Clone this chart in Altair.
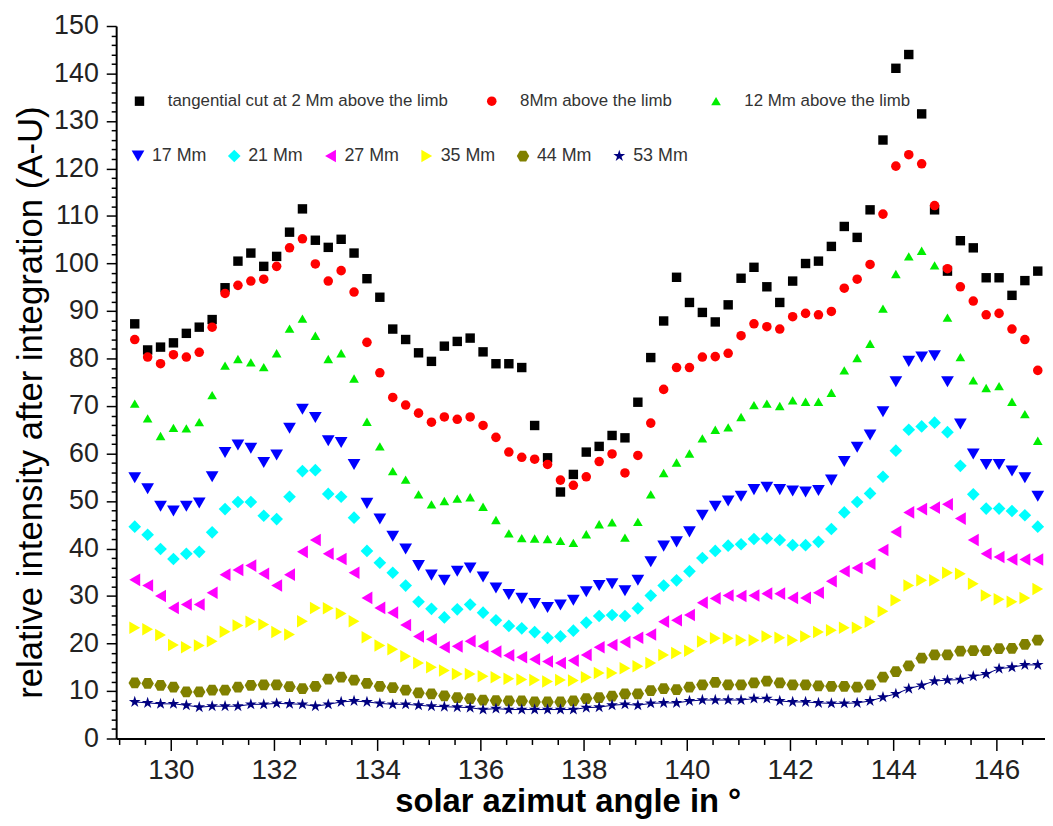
import altair as alt
import pandas as pd

# azimuth sampling positions (degrees)
X = [129.30, 129.55, 129.80, 130.05, 130.30, 130.55, 130.80, 131.05, 131.30, 131.55,
     131.80, 132.05, 132.30, 132.55, 132.80, 133.05, 133.30, 133.55, 133.80, 134.05,
     134.30, 134.55, 134.80, 135.05, 135.30, 135.55, 135.80, 136.05, 136.30, 136.55,
     136.80, 137.05, 137.30, 137.55, 137.80, 138.05, 138.30, 138.55, 138.80, 139.05,
     139.30, 139.55, 139.80, 140.05, 140.30, 140.55, 140.80, 141.05, 141.30, 141.55,
     141.80, 142.05, 142.30, 142.55, 142.80, 143.05, 143.30, 143.55, 143.80, 144.05,
     144.30, 144.55, 144.80, 145.05, 145.30, 145.55, 145.80, 146.05, 146.30, 146.55,
     146.80]

S2 = [87.3, 81.8, 82.4, 83.3, 85.3, 86.6, 88.2, 94.9, 100.5, 102.2,
      99.4, 101.5, 106.6, 111.5, 104.9, 103.4, 105.1, 102.2, 96.8, 92.9,
      86.2, 84.0, 81.2, 79.4, 82.6, 83.6, 84.3, 81.4, 78.9, 78.9,
      78.1, 65.9, 59.1, 51.9, 55.6, 60.3, 61.5, 63.8, 63.3, 70.8,
      80.2, 87.9, 97.1, 91.8, 89.7, 87.7, 91.3, 96.9, 99.2, 95.1,
      91.8, 96.3, 100.0, 100.5, 103.6, 107.8, 105.5, 111.3, 126.0, 141.1,
      144.0, 131.5, 111.3, 98.4, 104.8, 103.3, 97.0, 97.0, 93.3, 96.4,
      98.4]
S8 = [84.0, 80.3, 78.9, 80.8, 80.3, 81.3, 86.6, 93.7, 95.4, 96.3,
      96.7, 99.4, 103.3, 105.2, 99.9, 96.3, 98.5, 94.0, 83.4, 77.0,
      71.8, 70.2, 68.5, 66.6, 67.7, 67.2, 67.7, 65.9, 63.4, 60.3,
      59.2, 58.8, 57.7, 54.4, 53.3, 55.1, 58.3, 59.9, 55.9, 59.6,
      66.4, 73.5, 78.1, 78.1, 80.3, 80.4, 81.1, 84.8, 87.3, 86.7,
      86.2, 88.8, 89.5, 89.2, 89.9, 94.8, 96.7, 99.8, 110.4, 120.5,
      122.9, 121.0, 112.2, 98.9, 95.1, 92.1, 89.2, 89.5, 86.2, 84.0,
      77.5]
S12 = [70.5, 67.4, 63.7, 65.4, 65.3, 66.6, 72.3, 78.5, 79.9, 79.2,
       78.2, 81.1, 86.3, 88.4, 84.8, 79.9, 81.1, 75.8, 66.7, 61.5,
       56.3, 54.5, 51.4, 49.3, 50.0, 50.5, 50.8, 48.8, 46.0, 43.2,
       42.2, 42.1, 42.0, 41.6, 41.2, 43.0, 45.1, 45.5, 42.3, 45.6,
       51.4, 55.9, 58.1, 60.0, 63.2, 65.0, 65.5, 67.7, 70.2, 70.5,
       70.0, 71.2, 70.9, 70.9, 72.8, 77.5, 80.1, 83.1, 90.5, 97.8,
       101.5, 102.7, 99.6, 88.6, 80.3, 75.4, 73.8, 74.2, 70.9, 68.3,
       62.7]
S17 = [54.9, 52.6, 48.9, 47.9, 48.9, 49.6, 55.1, 60.2, 61.8, 61.1,
       58.1, 59.7, 65.3, 69.3, 67.6, 62.7, 62.3, 57.7, 49.5, 46.2,
       42.6, 39.9, 36.4, 34.4, 33.3, 35.2, 35.9, 34.0, 31.7, 30.3,
       29.5, 28.4, 27.6, 28.1, 29.1, 30.9, 32.2, 32.6, 31.1, 33.3,
       37.2, 40.5, 41.4, 43.5, 47.0, 48.9, 50.0, 51.0, 52.4, 52.9,
       52.4, 52.1, 51.9, 52.2, 54.4, 58.3, 61.3, 63.9, 68.8, 75.1,
       79.4, 80.3, 80.6, 75.1, 66.2, 59.9, 57.7, 57.7, 56.3, 54.9,
       51.0]
S21 = [44.6, 42.9, 39.9, 37.8, 38.9, 39.3, 43.4, 48.3, 49.8, 49.8,
       46.9, 46.2, 50.9, 56.3, 56.5, 51.5, 50.9, 46.5, 39.5, 37.0,
       34.9, 32.2, 28.8, 27.3, 25.5, 27.2, 28.2, 26.5, 24.9, 23.7,
       23.2, 22.4, 21.2, 21.5, 22.7, 24.4, 25.8, 26.0, 25.8, 27.4,
       30.1, 32.2, 33.3, 35.2, 38.0, 39.5, 40.6, 40.9, 42.0, 42.1,
       41.8, 40.7, 40.7, 41.4, 44.1, 47.6, 49.8, 51.6, 55.1, 60.6,
       65.0, 65.7, 66.5, 64.5, 57.4, 51.4, 48.4, 48.4, 47.9, 47.0,
       44.6]
S27 = [33.4, 32.2, 30.0, 27.5, 28.2, 28.2, 30.7, 34.5, 35.5, 36.4,
       34.7, 32.2, 34.5, 39.3, 41.8, 38.9, 37.8, 34.9, 29.6, 27.5,
       26.5, 23.9, 21.5, 20.9, 19.2, 19.4, 20.5, 19.4, 18.3, 17.5,
       17.1, 16.7, 16.2, 15.9, 16.4, 17.6, 19.2, 19.7, 20.3, 21.2,
       21.9, 24.6, 24.9, 26.0, 28.6, 29.5, 30.1, 30.0, 30.1, 30.5,
       30.5, 29.6, 29.6, 30.7, 33.1, 35.2, 35.9, 36.8, 39.7, 43.5,
       47.6, 48.3, 48.6, 49.3, 46.3, 41.8, 38.9, 38.2, 37.7, 37.7,
       37.7]
S35 = [23.3, 23.0, 21.8, 19.7, 19.2, 19.6, 20.5, 22.5, 23.8, 24.6,
       24.0, 22.4, 21.9, 24.7, 27.5, 27.4, 26.3, 24.7, 21.3, 19.6,
       18.8, 17.3, 15.9, 15.0, 14.3, 13.6, 13.6, 13.1, 12.9, 12.6,
       12.4, 12.3, 12.0, 12.3, 12.2, 12.9, 13.8, 13.8, 14.8, 15.2,
       15.9, 17.6, 18.0, 18.5, 20.4, 21.1, 21.1, 20.7, 20.7, 21.5,
       21.2, 20.7, 21.5, 22.4, 22.8, 23.3, 23.3, 24.6, 26.8, 29.1,
       32.2, 33.3, 33.3, 34.9, 34.7, 32.6, 30.1, 29.3, 28.8, 29.6,
       31.5]
S44 = [11.7, 11.6, 11.2, 10.8, 9.8, 9.8, 10.2, 10.2, 10.8, 11.2,
       11.3, 11.3, 10.9, 10.5, 11.0, 12.5, 12.9, 12.3, 11.6, 11.0,
       10.7, 10.2, 9.6, 9.4, 9.0, 8.6, 8.4, 8.1, 8.0, 7.9,
       7.9, 7.7, 7.7, 7.7, 7.9, 8.4, 8.6, 8.9, 9.4, 9.4,
       10.1, 10.5, 10.3, 10.8, 11.3, 11.8, 11.3, 11.3, 11.7, 12.1,
       11.7, 11.3, 11.3, 11.1, 11.0, 11.0, 10.8, 11.3, 12.9, 14.1,
       15.3, 16.9, 17.6, 17.6, 18.4, 18.5, 18.5, 18.9, 19.0, 19.8,
       20.7]
S53 = [7.7, 7.5, 7.3, 7.3, 7.0, 6.6, 6.8, 6.8, 6.8, 7.2,
       7.2, 7.4, 7.3, 7.2, 6.8, 7.2, 7.7, 7.9, 7.7, 7.4,
       7.2, 7.2, 7.0, 6.8, 6.7, 6.6, 6.5, 6.1, 6.3, 6.1,
       6.1, 6.1, 6.1, 6.1, 6.1, 6.5, 6.6, 7.0, 7.2, 7.0,
       7.4, 7.5, 7.5, 7.9, 8.1, 8.1, 8.1, 8.1, 8.4, 8.4,
       7.9, 7.7, 7.7, 7.5, 7.4, 7.4, 7.5, 7.9, 8.7, 9.4,
       10.5, 11.2, 12.1, 12.3, 12.4, 13.1, 13.6, 14.7, 15.0, 15.5,
       15.5]

NAMES_A = ["tangential cut at 2 Mm above the limb", "8Mm above the limb", "12 Mm above the limb"]
NAMES_B = ["17 Mm", "21 Mm", "27 Mm", "35 Mm", "44 Mm", "53 Mm"]
VALUES_A = [S2, S8, S12]
VALUES_B = [S17, S21, S27, S35, S44, S53]

COLORS_A = ["#000000", "#ff0000", "#00ee00"]
COLORS_B = ["#0000ff", "#00ffff", "#ff00ff", "#ffff00", "#808000", "#000080"]
HEX = "M-0.5,-0.866L0.5,-0.866L1,0L0.5,0.866L-0.5,0.866L-1,0Z"
STAR = ("M0,-1L0.2245,-0.309L0.951,-0.309L0.363,0.118L0.588,0.809L0,0.382"
        "L-0.588,0.809L-0.363,0.118L-0.951,-0.309L-0.2245,-0.309Z")
SHAPES_A = ["square", "circle", "triangle-up"]
SHAPES_B = ["triangle-down", "diamond", "triangle-left", "triangle-right", HEX, STAR]
SIZES_A = [90, 95, 175]
SIZES_B = [165, 155, 140, 140, 130, 150]

for v in VALUES_A + VALUES_B:
    assert len(v) == len(X), len(v)


def frame(names, values):
    rows = []
    for n, vals in zip(names, values):
        for xv, yv in zip(X, vals):
            rows.append({"x": xv, "y": yv, "series": n})
    return pd.DataFrame(rows)


dfA = frame(NAMES_A, VALUES_A)
dfB = frame(NAMES_B, VALUES_B)
dfLine = frame(["53 Mm"], [S53])

FONT = "Liberation Sans"
X_TICKS = [129 + 0.5 * k for k in range(36)]
Y_TICKS = [2 * k for k in range(76)]

x_enc = alt.X(
    "x:Q",
    scale=alt.Scale(domain=[128.94, 146.94], nice=False, zero=False),
    axis=alt.Axis(
        values=X_TICKS,
        format=".0f",
        labelExpr="datum.value % 2 === 0 ? datum.label : ''",
        tickSize={"condition": {"test": "datum.value % 2 === 0", "value": 12}, "value": 6},
        labelOverlap=False,
        grid=False,
        domainColor="#000000",
        domainWidth=2,
        tickColor="#000000",
        tickWidth=1.5,
        labelFont=FONT,
        labelFontSize=28,
        labelColor="#222222",
        labelPadding=6,
        title="solar azimut angle in °",
        titleFont=FONT,
        titleFontSize=33,
        titleFontWeight="bold",
        titleColor="#000000",
        titleBaseline="alphabetic",
        titleX=455,
        titleY=74,
    ),
)
y_enc = alt.Y(
    "y:Q",
    scale=alt.Scale(domain=[0, 150], nice=False),
    axis=alt.Axis(
        values=Y_TICKS,
        format=".0f",
        labelExpr="datum.value % 10 === 0 ? datum.label : ''",
        tickSize={"condition": {"test": "datum.value % 10 === 0", "value": 10}, "value": 5},
        labelOverlap=False,
        grid=False,
        domainColor="#000000",
        domainWidth=2,
        tickColor="#000000",
        tickWidth=1.5,
        labelFont=FONT,
        labelFontSize=27,
        labelColor="#222222",
        labelPadding=8,
        title="relative intensity after integration (A-U)",
        titleFont=FONT,
        titleFontSize=35,
        titleFontWeight="normal",
        titleColor="#000000",
        titleBaseline="alphabetic",
        titleAlign="center",
        titleX=-75,
        titleY=379,
    ),
)

line53 = alt.Chart(dfLine).mark_line(color="#000080", strokeWidth=1).encode(x=x_enc, y=y_enc)

ptsA = alt.Chart(dfA).mark_point(filled=True, opacity=1).encode(
    x=x_enc,
    y=y_enc,
    color=alt.Color(
        "series:N",
        scale=alt.Scale(domain=NAMES_A, range=COLORS_A),
        title=None,
        legend=alt.Legend(
            orient="none", direction="horizontal", legendX=15, legendY=67,
            labelFont=FONT, labelFontSize=17, labelColor="#333333",
            labelOffset=20, columnPadding=35, symbolSize=95, padding=0,
            labelLimit=400,
        ),
    ),
    shape=alt.Shape("series:N", scale=alt.Scale(domain=NAMES_A, range=SHAPES_A), title=None),
    size=alt.Size("series:N", scale=alt.Scale(domain=NAMES_A, range=SIZES_A), legend=None),
)

ptsB = alt.Chart(dfB).mark_point(filled=True, opacity=1).encode(
    x=x_enc,
    y=y_enc,
    color=alt.Color(
        "series:N",
        scale=alt.Scale(domain=NAMES_B, range=COLORS_B),
        title=None,
        legend=alt.Legend(
            orient="none", direction="horizontal", legendX=13, legendY=122,
            labelFont=FONT, labelFontSize=18, labelColor="#333333",
            labelOffset=5, columnPadding=18, symbolSize=120, padding=0,
            labelLimit=400,
        ),
    ),
    shape=alt.Shape("series:N", scale=alt.Scale(domain=NAMES_B, range=SHAPES_B), title=None),
    size=alt.Size("series:N", scale=alt.Scale(domain=NAMES_B, range=SIZES_B), legend=None),
)

chart = (
    alt.layer(line53, ptsA, ptsB)
    .resolve_scale(color="independent", shape="independent", size="independent")
    .properties(
        width=936,
        height=718,
        autosize=alt.AutoSizeParams(type="none"),
        padding={"left": 109, "top": 15, "right": 0, "bottom": 84},
        background="#ffffff",
    )
    .configure_view(stroke=None)
)

chart.save("out.html", embed_options={"renderer": "svg", "actions": False})
